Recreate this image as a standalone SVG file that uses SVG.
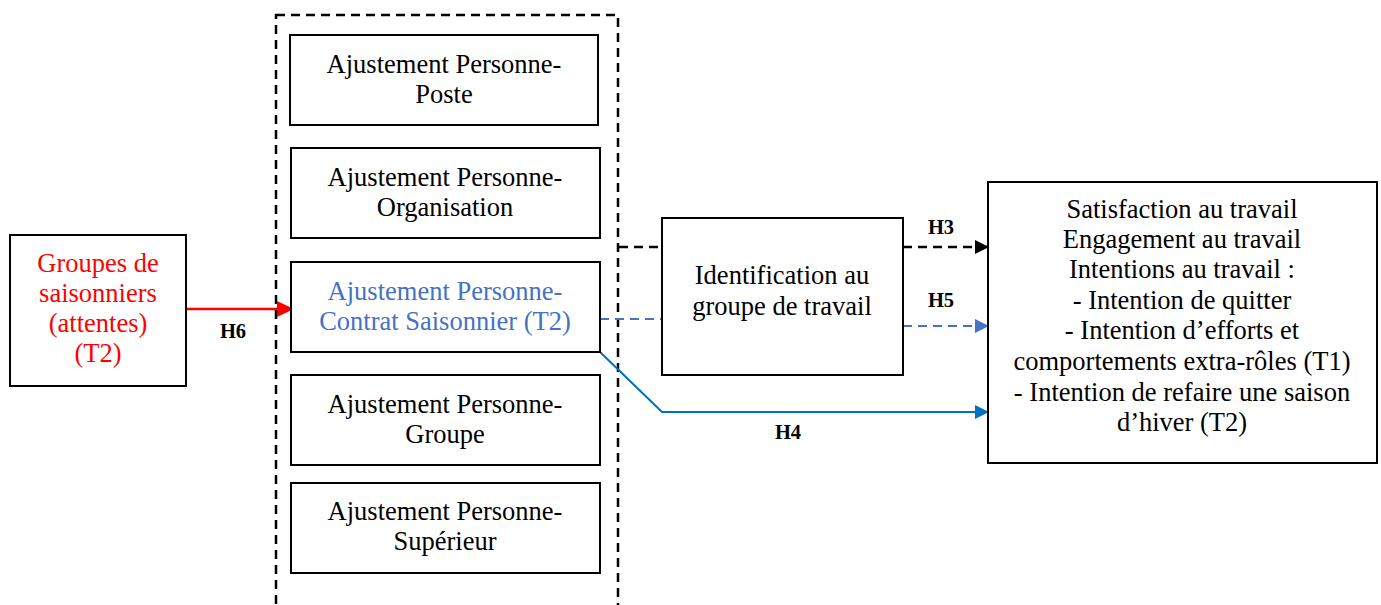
<svg xmlns="http://www.w3.org/2000/svg" width="1381" height="605" viewBox="0 0 1381 605">
<style>
.box{fill:#fff;stroke:#000;stroke-width:2}
.t{font-family:'Liberation Serif','Times New Roman',serif;font-size:26.5px;text-anchor:middle;fill:#000}
.lbl{font-family:'Liberation Serif','Times New Roman',serif;font-size:20.5px;font-weight:bold;text-anchor:middle;fill:#000}
</style>
<defs>
<marker id="mk" markerWidth="14" markerHeight="14" refX="13" refY="7" orient="auto" markerUnits="userSpaceOnUse"><path d="M0,0 L14,7 L0,14 z" fill="#000"/></marker>
<marker id="mr" markerWidth="17" markerHeight="16" refX="16" refY="8" orient="auto" markerUnits="userSpaceOnUse"><path d="M0,0 L17,8 L0,16 z" fill="#ff0000"/></marker>
<marker id="mb" markerWidth="14" markerHeight="14" refX="13" refY="7" orient="auto" markerUnits="userSpaceOnUse"><path d="M0,0 L14,7 L0,14 z" fill="#4472c4"/></marker>
<marker id="mb2" markerWidth="14" markerHeight="14" refX="13" refY="7" orient="auto" markerUnits="userSpaceOnUse"><path d="M0,0 L14,7 L0,14 z" fill="#0070c0"/></marker>
</defs>
<rect width="1381" height="605" fill="#fff"/>
<g id="container">
<rect x="276" y="15" width="342" height="620" fill="none" stroke="#000" stroke-width="2.5" stroke-dasharray="9,6"/>
</g>
<g id="connectors">
<line x1="186" y1="309" x2="293" y2="309" stroke="#ff0000" stroke-width="2.5" marker-end="url(#mr)"/>
<line x1="619" y1="247" x2="662" y2="247" stroke="#000" stroke-width="2.5" stroke-dasharray="9,6"/>
<line x1="903" y1="247" x2="988" y2="247" stroke="#000" stroke-width="2.5" stroke-dasharray="9,6" marker-end="url(#mk)"/>
<line x1="600" y1="319" x2="662" y2="319" stroke="#4472c4" stroke-width="2" stroke-dasharray="9,6"/>
<line x1="903" y1="326" x2="988" y2="326" stroke="#4472c4" stroke-width="2" stroke-dasharray="9,6" marker-end="url(#mb)"/>
<polyline points="600,352 662,412 988,412" fill="none" stroke="#0070c0" stroke-width="2" marker-end="url(#mb2)"/>
<text class="lbl" x="233" y="338">H6</text>
<text class="lbl" x="941" y="234">H3</text>
<text class="lbl" x="941" y="307">H5</text>
<text class="lbl" x="788" y="439">H4</text>
</g>
<g id="groupes">
<rect class="box" x="10" y="235" width="176" height="151"/>
<text class="t" style="fill:#ff0000" x="98" y="272">Groupes de</text>
<text class="t" style="fill:#ff0000" x="98" y="302">saisonniers</text>
<text class="t" style="fill:#ff0000" x="98" y="332">(attentes)</text>
<text class="t" style="fill:#ff0000" x="98" y="362">(T2)</text>
</g>
<g id="poste">
<rect class="box" x="290" y="35" width="308" height="90"/>
<text class="t" x="444" y="73">Ajustement Personne-</text>
<text class="t" x="444" y="103">Poste</text>
</g>
<g id="organisation">
<rect class="box" x="291" y="148" width="309" height="90"/>
<text class="t" x="445" y="186">Ajustement Personne-</text>
<text class="t" x="445" y="216">Organisation</text>
</g>
<g id="contrat">
<rect class="box" x="291" y="262" width="309" height="90"/>
<text class="t" style="fill:#4472c4" x="445" y="300">Ajustement Personne-</text>
<text class="t" style="fill:#4472c4" x="445" y="330">Contrat Saisonnier (T2)</text>
</g>
<g id="groupe">
<rect class="box" x="291" y="375" width="309" height="90"/>
<text class="t" x="445" y="413">Ajustement Personne-</text>
<text class="t" x="445" y="443">Groupe</text>
</g>
<g id="superieur">
<rect class="box" x="291" y="483" width="309" height="90"/>
<text class="t" x="445" y="520">Ajustement Personne-</text>
<text class="t" x="445" y="550">Supérieur</text>
</g>
<g id="identification">
<rect class="box" x="662" y="218" width="241" height="157"/>
<text class="t" x="782" y="284">Identification au</text>
<text class="t" x="782" y="315">groupe de travail</text>
</g>
<g id="resultats">
<rect class="box" x="988" y="182" width="389" height="281"/>
<text class="t" x="1182" y="218">Satisfaction au travail</text>
<text class="t" x="1182" y="248">Engagement au travail</text>
<text class="t" x="1182" y="278">Intentions au travail :</text>
<text class="t" x="1182" y="309">- Intention de quitter</text>
<text class="t" x="1182" y="339">- Intention d’efforts et</text>
<text class="t" x="1182" y="370">comportements extra-rôles (T1)</text>
<text class="t" x="1182" y="401">- Intention de refaire une saison</text>
<text class="t" x="1182" y="431">d’hiver (T2)</text>
</g>
</svg>
